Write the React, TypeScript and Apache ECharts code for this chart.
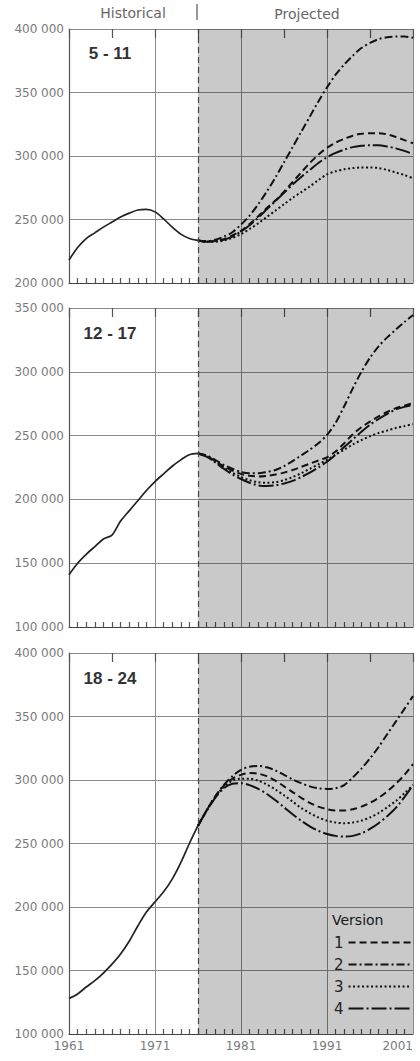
import React, { useEffect, useRef } from 'react';
import * as echarts from 'echarts';

const histYears = [1961, 1962, 1963, 1964, 1965, 1966, 1967, 1968, 1969, 1970, 1971, 1972, 1973, 1974, 1975, 1976];
const projYears = [1976, 1977, 1978, 1979, 1980, 1981, 1982, 1983, 1984, 1985, 1986, 1987, 1988, 1989, 1990, 1991, 1992, 1993, 1994, 1995, 1996, 1997, 1998, 1999, 2000, 2001];

const versionNames = ['1', '2', '3', '4'];
const panelLabels = ['5 - 11', '12 - 17', '18 - 24'];
const yMins = [200000, 100000, 100000];
const yMaxs = [400000, 350000, 400000];
const xTickLabels = [1961, 1971, 1981, 1991, 2001];

// Ages 5-11
const hist511 = [218000, 228000, 235000, 239500, 244000, 248000, 252000, 255000, 257500, 258000, 256000, 250500, 244000, 238500, 235000, 233500];
const v1_511 = [233500, 232500, 233000, 234500, 237500, 241000, 246500, 252500, 259000, 265000, 272000, 279500, 287000, 294500, 301000, 306500, 310500, 313500, 316000, 317500, 318000, 318000, 317000, 315000, 312500, 310000];
const v2_511 = [233500, 233000, 234000, 236500, 240000, 246000, 253000, 262000, 272000, 283000, 295000, 307000, 319000, 331000, 343000, 354000, 364000, 372000, 379000, 385000, 389000, 392000, 393500, 394000, 394000, 393000];
const v3_511 = [233500, 232500, 232500, 233500, 235500, 238500, 242500, 247000, 252000, 257000, 262000, 267000, 271500, 276000, 281000, 285500, 288000, 289500, 290500, 291000, 291000, 290500, 289000, 287000, 285000, 282500];
const v4_511 = [233500, 232500, 233000, 234000, 236500, 240500, 245500, 251500, 258000, 264500, 271000, 277500, 283500, 289000, 294500, 299000, 302500, 305000, 307000, 308000, 308500, 308500, 307500, 306000, 304000, 301500];

// Ages 12-17
const hist1217 = [141000, 150000, 157000, 163000, 169000, 172000, 183000, 191000, 199000, 207000, 214000, 220000, 226000, 231000, 235000, 236000];
const v1_1217 = [236000, 234000, 230000, 226000, 222500, 220000, 218500, 218000, 218500, 219500, 221000, 223000, 225500, 228000, 230500, 233000, 237500, 244000, 251000, 256500, 261000, 265000, 268500, 271500, 273500, 275500];
const v2_1217 = [236000, 234500, 231000, 227000, 224000, 221500, 220500, 220500, 221500, 223000, 226000, 230000, 234500, 239000, 244000, 250500, 260000, 273000, 287000, 300000, 311000, 320000, 327000, 333000, 339000, 344500];
const v3_1217 = [236000, 233500, 229500, 225000, 221000, 217500, 215000, 213500, 213000, 213500, 215000, 217500, 220500, 224000, 227500, 231000, 235000, 239000, 243000, 246500, 249500, 252000, 254000, 256000, 257500, 259000];
const v4_1217 = [236000, 233500, 229000, 224000, 219500, 216000, 213000, 211000, 210500, 211000, 212500, 214500, 217500, 221000, 225000, 229500, 235000, 241000, 247000, 253000, 258500, 263000, 267000, 270500, 272500, 274000];

// Ages 18-24
const hist1824 = [128000, 131500, 137000, 142000, 148000, 155000, 163000, 173000, 185000, 196000, 204000, 212000, 222000, 235000, 250000, 264000];
const v1_1824 = [264000, 276000, 287000, 295500, 301000, 304000, 305500, 305000, 303000, 299500, 295000, 290500, 286000, 282000, 279000, 277000, 276000, 276000, 277000, 279000, 282000, 286000, 291000, 297000, 304000, 312500];
const v2_1824 = [264000, 276000, 287000, 296000, 303000, 308000, 310500, 311000, 310000, 307500, 304000, 300500, 297500, 295000, 293500, 293000, 293500, 296000, 302000, 309000, 317000, 326000, 336000, 346000, 356000, 366000];
const v3_1824 = [264000, 276000, 286500, 294500, 299500, 301000, 301000, 299500, 296500, 292500, 288000, 283000, 278000, 274000, 270500, 268000, 266500, 266000, 266500, 268000, 270500, 274000, 278500, 283500, 289500, 296000];
const v4_1824 = [264000, 275500, 286000, 293500, 297000, 297500, 296000, 293000, 289000, 284000, 278500, 273000, 268000, 263500, 260000, 257500, 256000, 255500, 256000, 258000, 261500, 266000, 271500, 278000, 286500, 296000];

const histData = [hist511, hist1217, hist1824];
const projData = [
  [v1_511, v2_511, v3_511, v4_511],
  [v1_1217, v2_1217, v3_1217, v4_1217],
  [v1_1824, v2_1824, v3_1824, v4_1824],
];

const dashes: number[][] = [
  [7, 4],
  [8, 3, 2, 3],
  [2, 2.5],
  [15, 3, 2, 3],
];

const gridTops = [29, 308, 653];
const gridHeights = [254, 319, 381];
const labelTops = [53, 333, 678];

const fmt = (v: number) => {
  const s = String(v);
  return s.length > 3 ? s.slice(0, -3) + ' ' + s.slice(-3) : s;
};

const FONT = '"DejaVu Sans", sans-serif';

export default function App() {
  const ref = useRef<HTMLDivElement>(null);
  useEffect(() => {
    document.body.style.margin = '0';
    if (!ref.current) return;
    const chart = echarts.init(ref.current, undefined, { renderer: 'svg' });

    const grids: any[] = [];
    const xAxes: any[] = [];
    const yAxes: any[] = [];
    const series: any[] = [];

    for (let p = 0; p < 3; p++) {
      grids.push({ left: 69, width: 344, top: gridTops[p], height: gridHeights[p], containLabel: false, outerBoundsMode: 'none' });
      const isBottom = p === 2;
      xAxes.push({
        type: 'value', gridIndex: p, min: 1961, max: 2001, interval: 10,
        axisLine: { show: true, lineStyle: { color: '#444', width: 1.2 } },
        axisTick: { show: false, inside: true },
        minorTick: { show: true, splitNumber: 10, length: 5, lineStyle: { color: '#555', width: 1.2 } },
        splitLine: { show: true, lineStyle: { color: '#8a8a8a', width: 1 } },
        axisLabel: {
          show: isBottom, color: '#7a7a7a', fontFamily: FONT, fontSize: 12, margin: 6,
          alignMaxLabel: 'right',
          formatter: (v: number) => (xTickLabels.includes(v) ? String(v) : ''),
        },
      });
      xAxes.push({
        type: 'value', gridIndex: p, min: 1961, max: 2001, interval: 5,
        axisLine: { show: false },
        axisTick: { show: true, inside: true, length: 9, lineStyle: { color: '#555', width: 1.2 } },
        splitLine: { show: false },
        axisLabel: { show: false },
      });
      yAxes.push({
        type: 'value', gridIndex: p, min: yMins[p], max: yMaxs[p], interval: 50000,
        axisLine: { show: true, lineStyle: { color: '#555', width: 1.2 } },
        axisTick: { show: false },
        splitLine: { show: true, lineStyle: { color: '#8a8a8a', width: 1 } },
        axisLabel: { color: '#7a7a7a', fontFamily: FONT, fontSize: 12, margin: 5, formatter: fmt },
      });

      series.push({
        type: 'line', xAxisIndex: p * 2, yAxisIndex: p, silent: true,
        data: histYears.map((y, i) => [y, histData[p][i]]),
        showSymbol: false, symbol: 'none', smooth: 0.3,
        lineStyle: { color: '#222', width: 1.7 },
        markArea: {
          silent: true,
          itemStyle: { color: 'rgba(0,0,0,0.21)' },
          data: [[{ xAxis: 1976 }, { xAxis: 2001 }]],
        },
        markLine: {
          silent: true, symbol: 'none', label: { show: false },
          lineStyle: { color: '#444', width: 1.2, type: [6, 4] },
          data: [{ xAxis: 1976 }],
        },
        z: 2,
      });
      for (let v = 0; v < 4; v++) {
        series.push({
          name: versionNames[v], type: 'line', xAxisIndex: p * 2, yAxisIndex: p, silent: true,
          data: projYears.map((y, i) => [y, projData[p][v][i]]),
          showSymbol: false, symbol: 'none', smooth: 0.3,
          itemStyle: { color: '#111' },
          lineStyle: { color: '#111', width: 2, type: dashes[v], cap: 'butt' },
          z: 3,
        });
      }
    }

    const graphics: any[] = [
      { type: 'text', x: 133, y: 13, style: { text: 'Historical', font: `14px ${FONT}`, fill: '#666', align: 'center', verticalAlign: 'middle' } },
      { type: 'text', x: 307, y: 14, style: { text: 'Projected', font: `14px ${FONT}`, fill: '#666', align: 'center', verticalAlign: 'middle' } },
      { type: 'line', shape: { x1: 197, y1: 4, x2: 197, y2: 20 }, style: { stroke: '#555', lineWidth: 1.2 } },
      { type: 'text', x: 332, y: 920, style: { text: 'Version', font: `14px ${FONT}`, fill: '#222', align: 'left', verticalAlign: 'middle' } },
    ];
    for (let p = 0; p < 3; p++) {
      graphics.push({
        type: 'text', x: 110, y: labelTops[p],
        style: { text: panelLabels[p], font: `bold 17px "Liberation Sans", Arial, sans-serif`, fill: '#333', align: 'center', verticalAlign: 'middle' },
      });
    }

    chart.setOption({
      animation: false,
      backgroundColor: '#ffffff',
      grid: grids,
      xAxis: xAxes,
      yAxis: yAxes,
      series,
      legend: {
        data: versionNames,
        orient: 'vertical',
        align: 'right',
        left: 329,
        top: 930,
        itemWidth: 62,
        itemHeight: 14,
        itemGap: 7,
        selectedMode: false,
        itemStyle: { opacity: 0 },
        textStyle: { fontFamily: FONT, fontSize: 15, color: '#222', padding: [0, 0, 0, 0] },
      },
      graphic: graphics,
    });
    return () => chart.dispose();
  }, []);
  return <div ref={ref} style={{ width: 420, height: 1061 }} />;
}
